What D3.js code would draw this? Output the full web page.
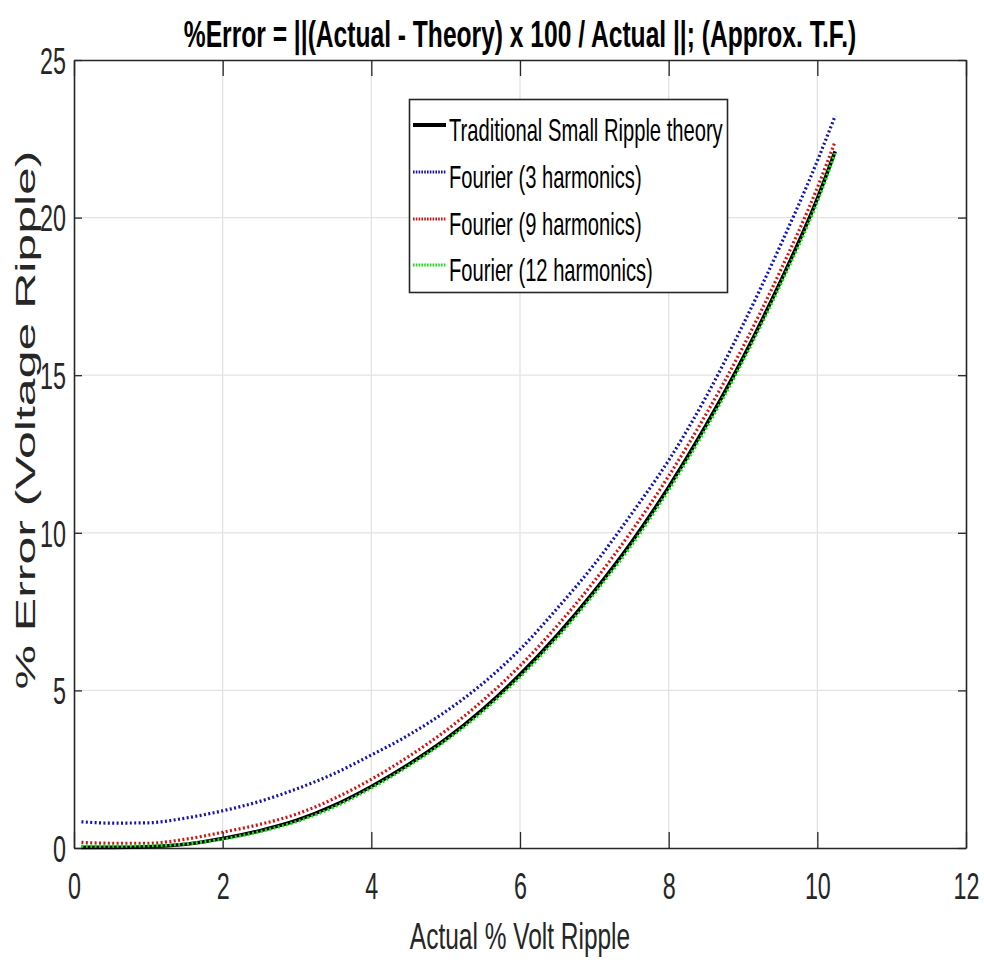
<!DOCTYPE html>
<html>
<head>
<meta charset="utf-8">
<script src="https://cdn.jsdelivr.net/npm/d3@7"></script>
<style>
  html, body { margin: 0; padding: 0; background: #fff; }
  svg { display: block; font-family: "Liberation Sans", Arial, Helvetica, sans-serif; }
</style>
</head>
<body>
<svg id="chart" width="984" height="966"></svg>
<script>
// Actual % voltage ripple (x) and % error of each approximation (y)
const ripple    = [0.1, 0.5, 1, 1.5, 2, 2.5, 3, 3.5, 4, 4.5, 5, 5.5, 6, 6.5, 7, 7.5, 8, 8.5, 9, 9.5, 10, 10.24];
const theory    = [0.02, 0.02, 0.04, 0.12, 0.30, 0.55, 0.88, 1.35, 1.95, 2.65, 3.45, 4.40, 5.50, 6.75, 8.15, 9.70, 11.45, 13.40, 15.55, 17.95, 20.60, 22.10];
const fourier3  = [0.83, 0.79, 0.80, 0.95, 1.18, 1.48, 1.88, 2.36, 2.95, 3.58, 4.33, 5.22, 6.30, 7.60, 9.00, 10.60, 12.30, 14.30, 16.60, 19.10, 21.80, 23.23];
const fourier9  = [0.18, 0.15, 0.15, 0.28, 0.50, 0.75, 1.08, 1.57, 2.18, 2.90, 3.72, 4.68, 5.78, 7.05, 8.47, 10.05, 11.80, 13.75, 15.90, 18.30, 20.95, 22.42];
const fourier12 = [0.06, 0.06, 0.07, 0.13, 0.28, 0.52, 0.84, 1.30, 1.90, 2.60, 3.40, 4.33, 5.42, 6.67, 8.07, 9.60, 11.35, 13.30, 15.45, 17.85, 20.50, 22.05];

const seriesNames = ["Traditional Small Ripple theory", "Fourier (3 harmonics)", "Fourier (9 harmonics)", "Fourier (12 harmonics)"];
const xTicks = [0, 2, 4, 6, 8, 10, 12];
const yTicks = [0, 5, 10, 15, 20, 25];

const titleText = "%Error = ||(Actual - Theory) x 100 / Actual ||; (Approx. T.F.)";
const xLabelText = "Actual % Volt Ripple";
const yLabelText = "% Error (Voltage Ripple)";

const svg = d3.select("#chart");
const box = { left: 74, right: 966, top: 60, bottom: 848 };

const x = d3.scaleLinear().domain([0, 12]).range([box.left, box.right]);
const y = d3.scaleLinear().domain([0, 25]).range([box.bottom, box.top]);

const axisColor = "#262626";
const narrow = 0.63;   // horizontal squeeze for the narrow lettering

// grid
const grid = svg.append("g");
grid.selectAll("line.gx").data(xTicks.slice(1, -1)).join("line")
  .attr("x1", d => x(d)).attr("x2", d => x(d))
  .attr("y1", box.top).attr("y2", box.bottom)
  .attr("stroke", "#e3e3e3").attr("stroke-width", 1.3);
grid.selectAll("line.gy").data(yTicks.slice(1, -1)).join("line")
  .attr("x1", box.left).attr("x2", box.right)
  .attr("y1", d => y(d)).attr("y2", d => y(d))
  .attr("stroke", "#e3e3e3").attr("stroke-width", 1.3);

// axes with inward ticks on all four sides
const xTickLen = 16, yTickLen = 8;
const axB = svg.append("g").attr("transform", `translate(0,${box.bottom})`)
  .call(d3.axisBottom(x).tickValues(xTicks).tickSizeInner(-xTickLen).tickSizeOuter(0).tickFormat(d3.format("d")).tickPadding(25));
const axT = svg.append("g").attr("transform", `translate(0,${box.top})`)
  .call(d3.axisTop(x).tickValues(xTicks).tickSizeInner(-xTickLen).tickSizeOuter(0).tickFormat(""));
const axL = svg.append("g").attr("transform", `translate(${box.left},0)`)
  .call(d3.axisLeft(y).tickValues(yTicks).tickSizeInner(-yTickLen).tickSizeOuter(0).tickFormat(d3.format("d")).tickPadding(8));
const axR = svg.append("g").attr("transform", `translate(${box.right},0)`)
  .call(d3.axisRight(y).tickValues(yTicks).tickSizeInner(-yTickLen).tickSizeOuter(0).tickFormat(""));

[axB, axT, axL, axR].forEach(a => {
  a.select(".domain").attr("stroke", axisColor).attr("stroke-width", 1.6);
  a.selectAll(".tick line").attr("stroke", axisColor).attr("stroke-width", 1.3);
  a.selectAll(".tick text").attr("fill", "#262626").attr("font-size", 37)
    .attr("font-family", "'Liberation Sans', Arial, sans-serif");
});
axB.selectAll(".tick text").attr("dy", "0.71em")
  .attr("transform", `scale(${narrow},1)`);
axL.selectAll(".tick text").attr("dy", "0.36em")
  .attr("x", -8 / narrow)
  .attr("transform", `scale(${narrow},1)`);

// curves
const seriesData = [theory, fourier3, fourier9, fourier12];
const seriesStyle = [
  { color: "#000000", width: 3.6, dash: null },
  { color: "#1414b4", width: 3.2, dash: "2,2.4" },
  { color: "#d01414", width: 3.2, dash: "2,2.4" },
  { color: "#14e614", width: 3.2, dash: "2,2.4" }
];
const line = d3.line()
  .x((d, i) => x(ripple[i]))
  .y(d => y(d))
  .curve(d3.curveMonotoneX);

const curves = svg.append("g");
seriesData.forEach((vals, k) => {
  const s = seriesStyle[k];
  curves.append("path")
    .attr("d", line(vals))
    .attr("fill", "none")
    .attr("stroke", s.color)
    .attr("stroke-width", s.width)
    .attr("stroke-dasharray", s.dash);
});

// squeezed text placed at (px, py)
function narrowText(g, px, py, str, size, k, anchor, weight) {
  return g.append("text")
    .attr("transform", `translate(${px},${py}) scale(${k},1)`)
    .attr("text-anchor", anchor || "start")
    .attr("font-size", size)
    .attr("font-weight", weight || "normal")
    .text(str);
}

// legend
const leg = svg.append("g");
leg.append("rect")
  .attr("x", 409.5).attr("y", 99.5).attr("width", 318).attr("height", 193)
  .attr("fill", "#fff").attr("stroke", axisColor).attr("stroke-width", 1.6);
const rowBase = [141, 188, 235, 281];
seriesNames.forEach((name, k) => {
  const s = seriesStyle[k];
  leg.append("line")
    .attr("x1", 413).attr("x2", 446)
    .attr("y1", rowBase[k] - 16).attr("y2", rowBase[k] - 16)
    .attr("stroke", s.color)
    .attr("stroke-width", k === 0 ? 4 : 3)
    .attr("stroke-dasharray", k === 0 ? null : "1.6,1.2");
  narrowText(leg, 449, rowBase[k], name, 32, narrow).attr("fill", "#000");
});

// title
narrowText(svg, 520, 47, titleText, 37, 0.665, "middle", "bold").attr("fill", "#000");

// x label
narrowText(svg, 520, 949, xLabelText, 36, 0.68, "middle").attr("fill", "#262626");

// y label (rotated, glyph height squeezed on screen)
svg.append("text")
  .attr("transform", "translate(35,420) scale(0.55,1) rotate(-90)")
  .attr("text-anchor", "middle")
  .attr("font-size", 50).attr("fill", "#262626")
  .text(yLabelText);
</script>
</body>
</html>
